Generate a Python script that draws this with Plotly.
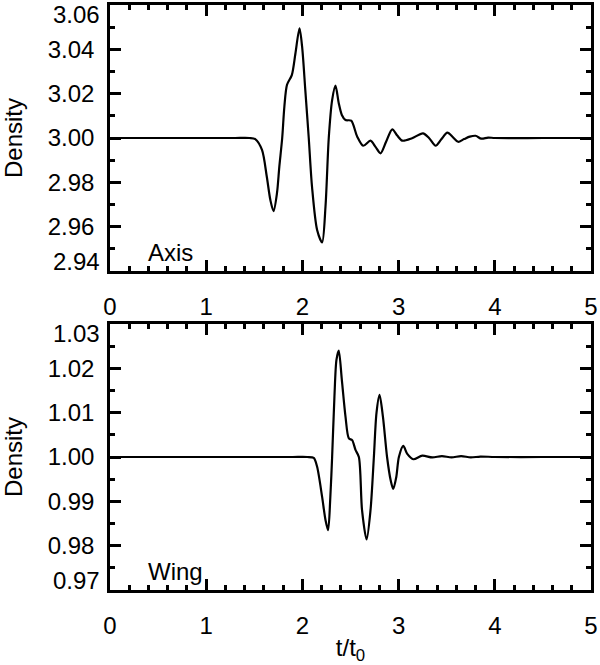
import plotly.graph_objects as go

# ---- data ----
t_axis = [0, 0.5, 1.0, 1.3, 1.45, 1.51, 1.58, 1.63, 1.667, 1.70, 1.736, 1.76, 1.79, 1.8125,
          1.84, 1.89, 1.927, 1.97, 1.997, 2.03, 2.066, 2.10, 2.153, 2.205, 2.24, 2.274,
          2.309, 2.344, 2.378, 2.41, 2.448, 2.507, 2.57, 2.632, 2.708, 2.76, 2.8125, 2.87,
          2.934, 2.986, 3.038, 3.14, 3.253, 3.316, 3.385, 3.444, 3.507, 3.566, 3.618, 3.68,
          3.74, 3.80, 3.86, 3.93, 4.0, 4.5, 5.0]
d_axis = [3.0, 3.0, 3.0, 3.0, 3.0, 2.9995, 2.9946, 2.9825, 2.972, 2.967, 2.9752, 2.987, 3.000,
          3.0141, 3.024, 3.0284, 3.038, 3.0495, 3.0412, 3.0217, 3.000, 2.978, 2.9585, 2.9529,
          2.969, 3.000, 3.0171, 3.0236, 3.0157, 3.0104, 3.0081, 3.0078, 3.0006, 2.9965, 2.9988,
          2.9960, 2.9931, 2.9983, 3.0039, 3.0011, 2.9988, 2.9999, 3.0021, 3.000, 2.9965, 2.9994,
          3.0024, 3.0003, 2.9983, 2.9995, 3.0006, 3.0010, 2.9997, 3.0002, 3.0, 3.0, 3.0]

t_wing = [0, 0.5, 1.0, 1.5, 1.9, 2.05, 2.118, 2.153, 2.205, 2.24, 2.267, 2.29, 2.309, 2.333,
          2.354, 2.378, 2.41, 2.448, 2.483, 2.517, 2.552, 2.587, 2.62, 2.667, 2.708, 2.743,
          2.77, 2.802, 2.837, 2.88, 2.917, 2.944, 2.976, 3.003, 3.049, 3.09, 3.153, 3.246,
          3.35, 3.45, 3.55, 3.65, 3.75, 3.85, 4.0, 4.5, 5.0]
d_wing = [1.0, 1.0, 1.0, 1.0, 1.0, 1.0, 0.9998, 0.9978, 0.9910, 0.9858, 0.9835, 0.9908, 1.000,
          1.0136, 1.0219, 1.024, 1.0174, 1.0091, 1.0042, 1.0038, 1.0016, 1.000, 0.9880, 0.9814,
          0.9880, 1.000, 1.0099, 1.014, 1.0091, 1.000, 0.9948, 0.9928, 0.9955, 1.000, 1.0025,
          1.0007, 0.9995, 1.0003, 0.9999, 1.0002, 0.9999, 1.0002, 0.9999, 1.0001, 1.0, 1.0, 1.0]

x_ticks = [0, 1, 2, 3, 4, 5]
y_ticks_axis = [2.94, 2.96, 2.98, 3.00, 3.02, 3.04, 3.06]
y_ticks_wing = [0.97, 0.98, 0.99, 1.00, 1.01, 1.02, 1.03]
panel_labels = ["Axis", "Wing"]

FONT = "Liberation Sans, Arial, Helvetica, sans-serif"
FS = 24

fig = go.Figure()
line_style = dict(color="black", width=2.2, shape="spline", smoothing=0.8)
fig.add_trace(go.Scatter(x=t_axis, y=d_axis, mode="lines", line=line_style,
                         xaxis="x", yaxis="y", showlegend=False, hoverinfo="skip"))
fig.add_trace(go.Scatter(x=t_wing, y=d_wing, mode="lines", line=line_style,
                         xaxis="x2", yaxis="y2", showlegend=False, hoverinfo="skip"))

common = dict(showline=True, linecolor="black", linewidth=2.5, mirror="ticks",
              ticks="inside", ticklen=11, tickwidth=2.5, tickcolor="black",
              showgrid=False, zeroline=False,
              tickfont=dict(family=FONT, size=FS, color="black"))

def xaxis_cfg(anchor):
    return dict(common, range=[0, 5], tickvals=x_ticks, tickformat="d", anchor=anchor,
                ticklabelstandoff=12,
                minor=dict(ticks="inside", ticklen=5, tickwidth=2.5, tickcolor="black",
                           dtick=0.2, tick0=0))

def yaxis_cfg(ticks, minor_dt, anchor, domain):
    inner = ticks[1:-1]
    return dict(common, range=[ticks[0], ticks[-1]], tickvals=inner, tickformat=".2f",
                anchor=anchor, domain=domain, ticklabelstandoff=8,
                title=dict(text="Density", font=dict(family=FONT, size=FS, color="black"),
                           standoff=22),
                minor=dict(ticks="inside", ticklen=5, tickwidth=2.5, tickcolor="black",
                           dtick=minor_dt, tick0=ticks[0]))

H, W = 665, 600
mt, mb, ml, mr = 5, 75, 110, 9
ph = H - mt - mb
top_dom = [(590 - 271) / ph, 1.0]
bot_dom = [0.0, (590 - 324) / ph]

fig.update_layout(
    width=W, height=H,
    margin=dict(l=ml, r=mr, t=mt, b=mb, autoexpand=False),
    paper_bgcolor="white", plot_bgcolor="white",
    xaxis=xaxis_cfg("y"),
    yaxis=yaxis_cfg(y_ticks_axis, 0.01, "x", top_dom),
    xaxis2=dict(xaxis_cfg("y2"),
                title=dict(text="t/t<sub>0</sub>",
                           font=dict(family=FONT, size=FS, color="black"), standoff=6)),
    yaxis2=yaxis_cfg(y_ticks_wing, 0.005, "x2", bot_dom),
)

annots = []
# end tick labels nudged inside the frame, as in the reference
for yref, ticks in (("y", y_ticks_axis), ("y2", y_ticks_wing)):
    for v, shift in ((ticks[-1], -9), (ticks[0], 10)):
        annots.append(dict(xref="x domain" if yref == "y" else "x2 domain", x=0,
                           yref=yref, y=v, xanchor="right", yanchor="middle",
                           xshift=-8, yshift=shift, showarrow=False, text="{:.2f}".format(v),
                           font=dict(family=FONT, size=FS, color="black")))
# panel labels
for xr, yr, txt in (("x domain", "y domain", panel_labels[0]),
                    ("x2 domain", "y2 domain", panel_labels[1])):
    annots.append(dict(xref=xr, yref=yr, x=0.074, y=0.07, xanchor="left", yanchor="middle",
                       showarrow=False, text=txt,
                       font=dict(family=FONT, size=FS, color="black")))
fig.update_layout(annotations=annots)

fig.write_html("out.html", config={"displayModeBar": False},
               post_script="document.body.style.margin='0';document.body.style.padding='0';")
